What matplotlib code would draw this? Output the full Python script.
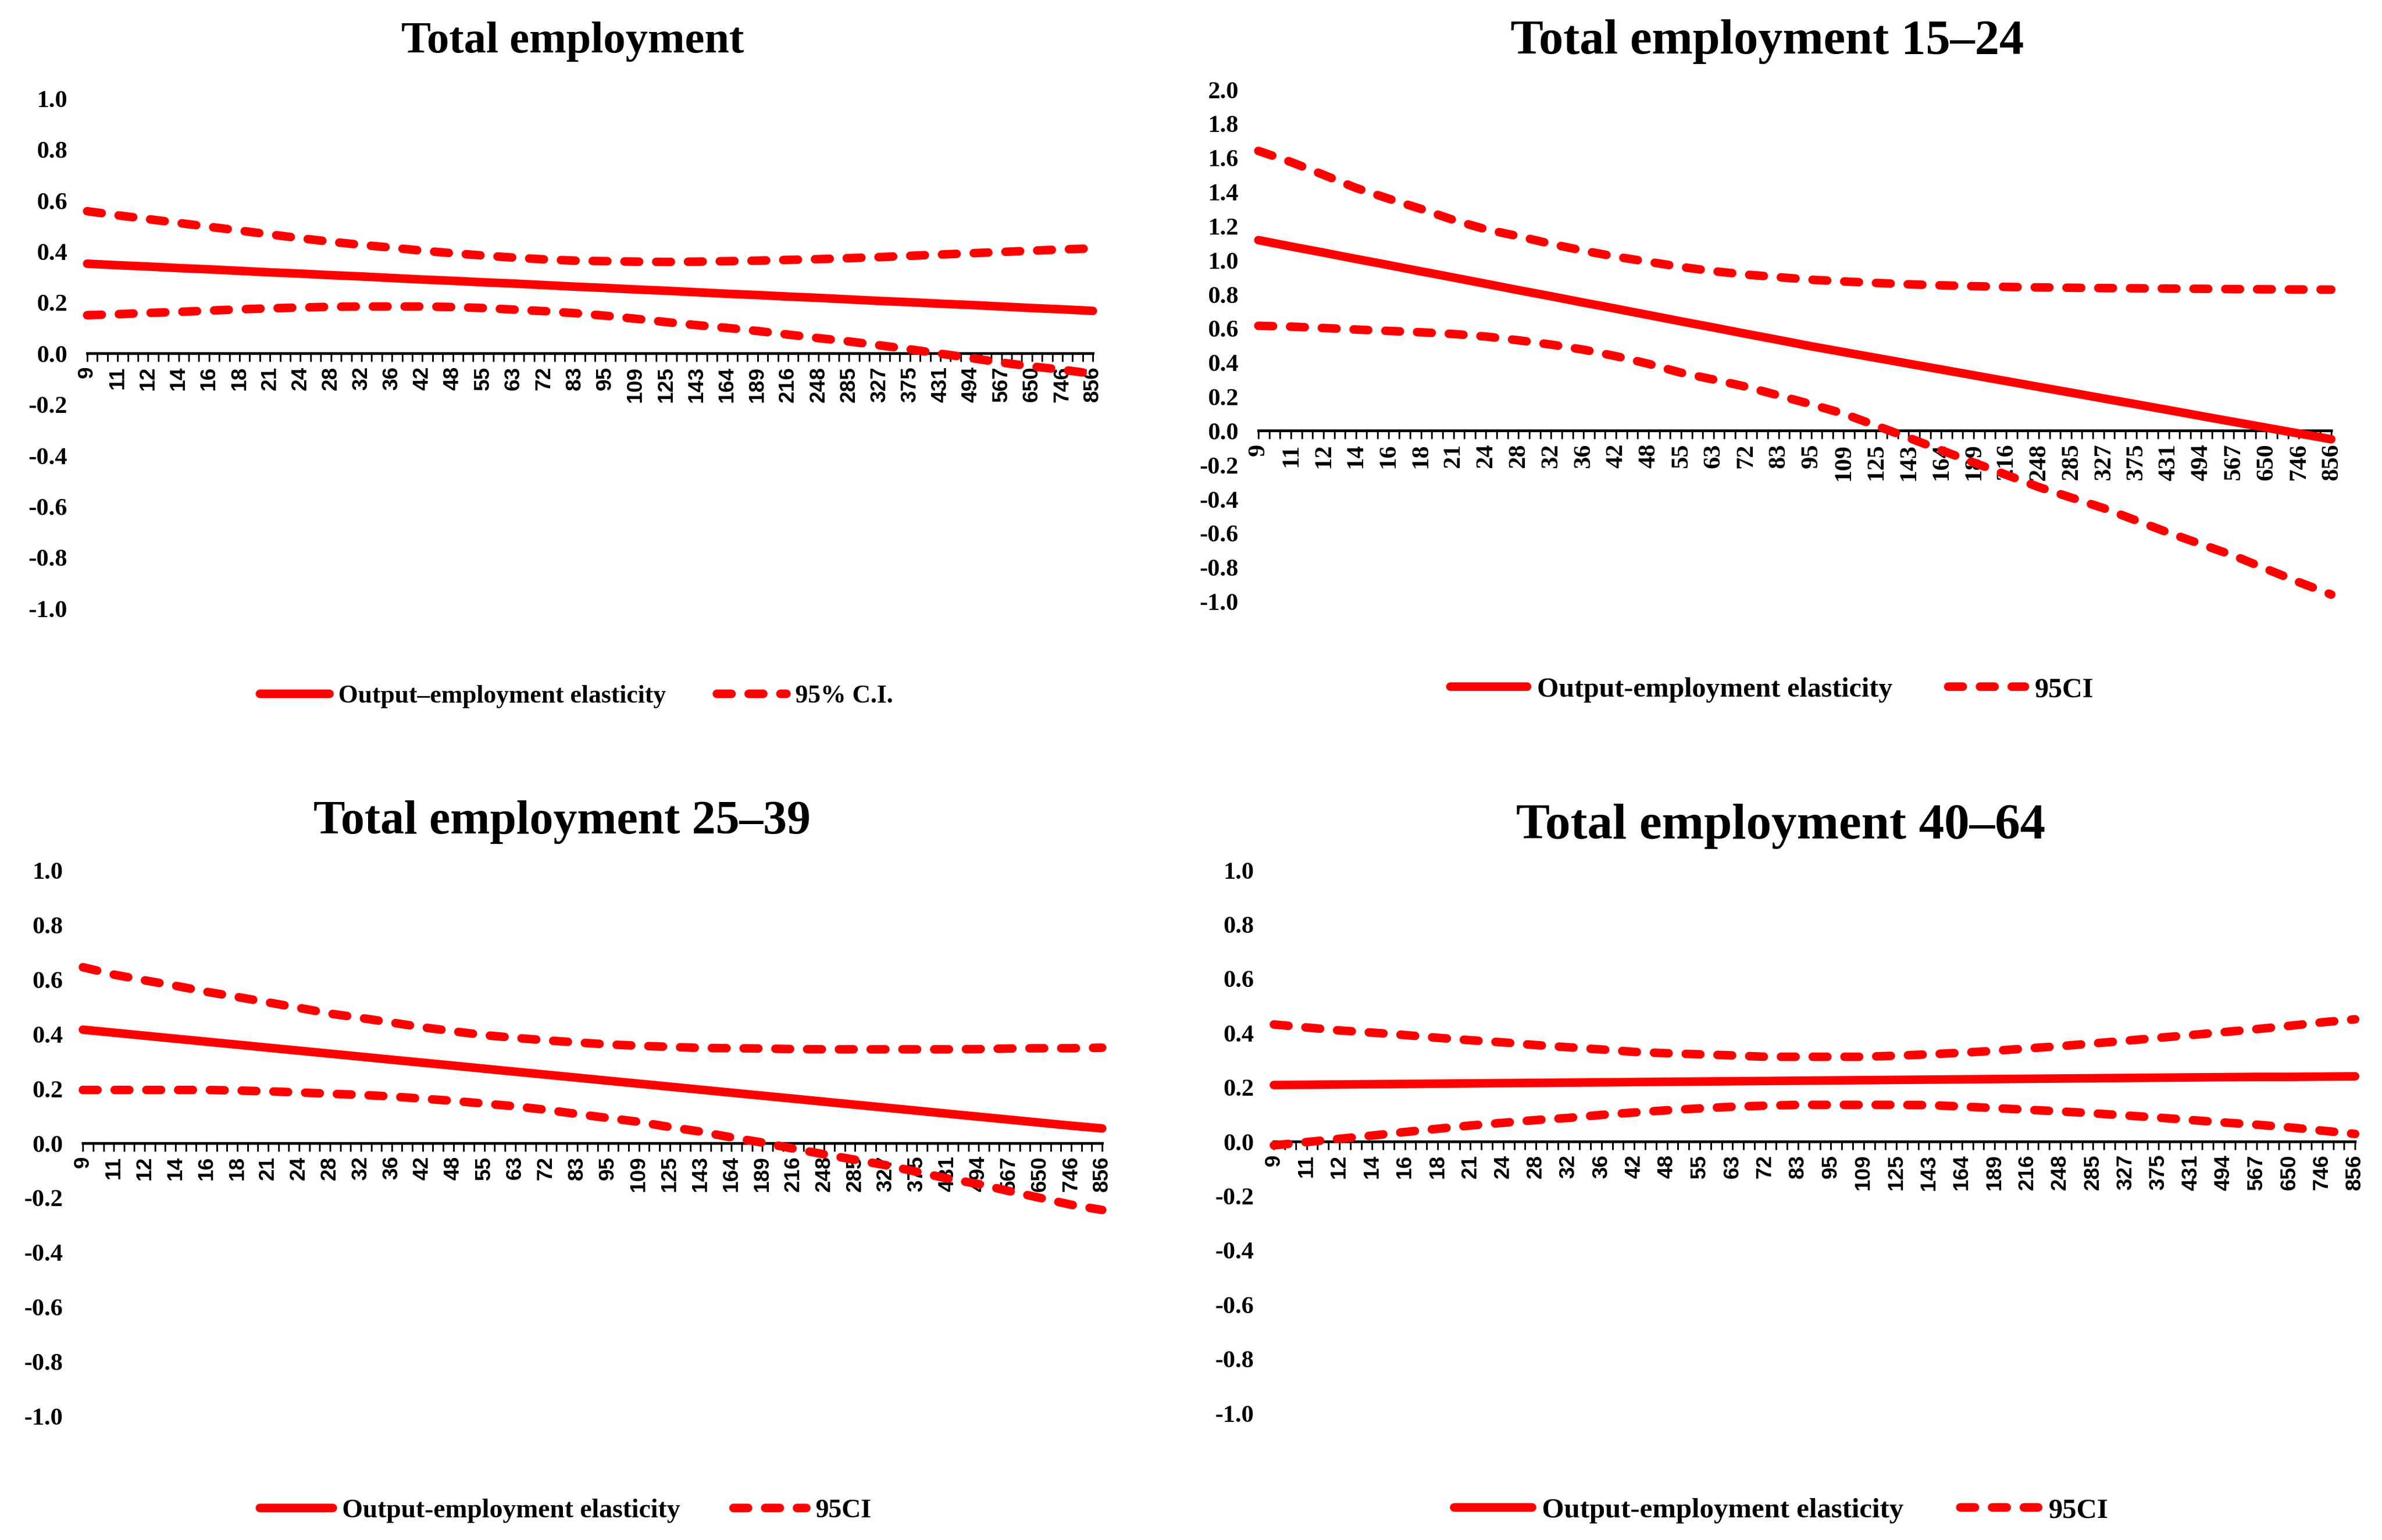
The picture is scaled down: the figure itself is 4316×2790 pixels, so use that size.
import matplotlib
matplotlib.use("Agg")
import matplotlib.pyplot as plt
import numpy as np

# category axis labels (every third category is labelled)
x_labels = [9, 11, 12, 14, 16, 18, 21, 24, 28, 32, 36, 42, 48, 55, 63, 72, 83,
            95, 109, 125, 143, 164, 189, 216, 248, 285, 327, 375, 431, 494,
            567, 650, 746, 856]

# Total employment
total_est = [0.352, 0.346, 0.341, 0.335, 0.330, 0.324, 0.318, 0.313, 0.307,
             0.302, 0.296, 0.290, 0.285, 0.279, 0.274, 0.268, 0.262, 0.257,
             0.251, 0.246, 0.240, 0.234, 0.229, 0.223, 0.218, 0.212, 0.206,
             0.201, 0.195, 0.190, 0.184, 0.178, 0.173, 0.167]
total_hi = [0.558, 0.542, 0.527, 0.512, 0.497, 0.482, 0.467, 0.452, 0.438,
            0.426, 0.415, 0.403, 0.393, 0.384, 0.376, 0.369, 0.364, 0.362,
            0.360, 0.359, 0.360, 0.362, 0.364, 0.367, 0.370, 0.374, 0.378,
            0.383, 0.388, 0.393, 0.398, 0.403, 0.408, 0.412]
total_lo = [0.150, 0.154, 0.159, 0.163, 0.168, 0.173, 0.177, 0.180, 0.183,
            0.184, 0.184, 0.184, 0.182, 0.178, 0.172, 0.166, 0.158, 0.148,
            0.136, 0.123, 0.111, 0.100, 0.088, 0.074, 0.060, 0.047, 0.032,
            0.016, -0.001, -0.018, -0.036, -0.051, -0.064, -0.080]

# 15-24
young_est = [1.117, 1.080, 1.044, 1.007, 0.971, 0.934, 0.898, 0.861, 0.824,
             0.788, 0.751, 0.715, 0.678, 0.641, 0.605, 0.568, 0.532, 0.495,
             0.461, 0.427, 0.393, 0.359, 0.325, 0.291, 0.257, 0.223, 0.189,
             0.155, 0.121, 0.086, 0.052, 0.018, -0.016, -0.050]
young_hi = [1.640, 1.575, 1.500, 1.423, 1.360, 1.300, 1.235, 1.180, 1.140,
            1.095, 1.055, 1.020, 0.990, 0.960, 0.935, 0.915, 0.900, 0.885,
            0.875, 0.866, 0.858, 0.852, 0.847, 0.843, 0.840, 0.838, 0.836,
            0.835, 0.833, 0.832, 0.830, 0.829, 0.828, 0.827]
young_lo = [0.615, 0.610, 0.602, 0.593, 0.585, 0.577, 0.567, 0.552, 0.530,
            0.505, 0.475, 0.437, 0.392, 0.340, 0.300, 0.258, 0.207, 0.155,
            0.100, 0.030, -0.041, -0.114, -0.186, -0.258, -0.330, -0.392,
            -0.454, -0.526, -0.598, -0.665, -0.732, -0.810, -0.887, -0.960]

# 25-39
mid_est = [0.416, 0.405, 0.394, 0.383, 0.372, 0.361, 0.350, 0.339, 0.328,
           0.317, 0.306, 0.295, 0.284, 0.273, 0.262, 0.251, 0.240, 0.229,
           0.218, 0.207, 0.196, 0.185, 0.174, 0.163, 0.152, 0.141, 0.130,
           0.119, 0.108, 0.097, 0.086, 0.075, 0.064, 0.054]
mid_hi = [0.645, 0.618, 0.597, 0.577, 0.555, 0.536, 0.516, 0.496, 0.475,
          0.459, 0.442, 0.425, 0.410, 0.396, 0.386, 0.377, 0.369, 0.362,
          0.357, 0.353, 0.349, 0.348, 0.347, 0.345, 0.344, 0.344, 0.344,
          0.344, 0.344, 0.345, 0.347, 0.348, 0.348, 0.350]
mid_lo = [0.195, 0.195, 0.195, 0.195, 0.195, 0.193, 0.190, 0.186, 0.181,
          0.177, 0.171, 0.163, 0.155, 0.145, 0.135, 0.122, 0.107, 0.092,
          0.078, 0.059, 0.042, 0.021, 0.002, -0.020, -0.041, -0.061, -0.081,
          -0.105, -0.130, -0.150, -0.176, -0.201, -0.226, -0.245]

# 40-64
old_est = [0.208, 0.209, 0.210, 0.211, 0.212, 0.213, 0.214, 0.215, 0.216,
           0.217, 0.218, 0.219, 0.220, 0.221, 0.222, 0.223, 0.224, 0.225,
           0.226, 0.227, 0.228, 0.229, 0.230, 0.231, 0.232, 0.233, 0.234,
           0.235, 0.236, 0.237, 0.238, 0.238, 0.239, 0.240]
old_hi = [0.431, 0.420, 0.409, 0.401, 0.392, 0.382, 0.373, 0.365, 0.355,
          0.347, 0.339, 0.330, 0.325, 0.321, 0.317, 0.312, 0.312, 0.312,
          0.312, 0.316, 0.321, 0.327, 0.334, 0.343, 0.351, 0.361, 0.371,
          0.382, 0.392, 0.403, 0.414, 0.426, 0.439, 0.450]
old_lo = [-0.014, -0.002, 0.010, 0.022, 0.035, 0.047, 0.059, 0.069, 0.079,
          0.087, 0.098, 0.107, 0.115, 0.122, 0.128, 0.132, 0.135, 0.135,
          0.135, 0.135, 0.134, 0.129, 0.123, 0.117, 0.111, 0.104, 0.096,
          0.088, 0.079, 0.070, 0.062, 0.052, 0.040, 0.028]

RED = "#FF0000"
SERIF = "Liberation Serif"
SANS = "Liberation Sans"
LW = 5.6

panels = [
    dict(title="Total employment", est=total_est, hi=total_hi, lo=total_lo,
         ylim=(-1.0, 1.0), rect=[0.0366, 0.605, 0.4222, 0.331],
         title_xy=(0.2405, 0.973), title_size=29, xfont=SANS, xsize=14,
         leg=("Output\u2013employment elasticity", "95% C.I."),
         leg_xy=(0.242, 0.5477), leg_size=16.5),
    dict(title="Total employment 15\u201324", est=young_est, hi=young_hi, lo=young_lo,
         ylim=(-1.0, 2.0), rect=[0.5283, 0.6095, 0.4504, 0.3324],
         title_xy=(0.742, 0.973), title_size=32, xfont=SERIF, xsize=16,
         leg=("Output-employment elasticity", "95CI"),
         leg_xy=(0.744, 0.552), leg_size=18.2),
    dict(title="Total employment 25\u201339", est=mid_est, hi=mid_hi, lo=mid_lo,
         ylim=(-1.0, 1.0), rect=[0.0348, 0.0806, 0.4279, 0.3542],
         title_xy=(0.2360, 0.4663), title_size=31, xfont=SANS, xsize=14,
         leg=("Output-employment elasticity", "95CI"),
         leg_xy=(0.2375, 0.019), leg_size=17.3),
    dict(title="Total employment 40\u201364", est=old_est, hi=old_hi, lo=old_lo,
         ylim=(-1.0, 1.0), rect=[0.5348, 0.0824, 0.4539, 0.3527],
         title_xy=(0.7475, 0.4634), title_size=33, xfont=SANS, xsize=14,
         leg=("Output-employment elasticity", "95CI"),
         leg_xy=(0.7478, 0.019), leg_size=18.5),
]

n_cat = 3 * (len(x_labels) - 1) + 1
xpos = np.arange(len(x_labels)) * 3

fig = plt.figure(figsize=(21.58, 13.95), dpi=200)

for p in panels:
    ax = fig.add_axes(p["rect"])
    l1, = ax.plot(xpos, p["est"], color=RED, lw=LW, solid_capstyle="round",
                  clip_on=False, zorder=3)
    l2, = ax.plot(xpos, p["hi"], color=RED, lw=LW, dashes=(1.7, 2.0),
                  dash_capstyle="round", clip_on=False, zorder=3)
    ax.plot(xpos, p["lo"], color=RED, lw=LW, dashes=(1.7, 2.0),
            dash_capstyle="round", clip_on=False, zorder=3)

    ax.set_xlim(0, n_cat - 1)
    ax.set_ylim(*p["ylim"])

    for s in ["left", "right", "top"]:
        ax.spines[s].set_visible(False)
    ax.spines["bottom"].set_position(("data", 0))
    ax.spines["bottom"].set_linewidth(1.8)
    ax.spines["bottom"].set_zorder(2)

    ax.set_xticks(xpos)
    ax.set_xticklabels([str(v) for v in x_labels], rotation=90,
                       fontfamily=p["xfont"], fontweight="bold",
                       fontsize=p["xsize"])
    ax.set_xticks(np.arange(n_cat), minor=True)
    ax.tick_params(axis="x", which="both", direction="out", length=5.4,
                   width=1.1, pad=3)

    yt = np.round(np.arange(p["ylim"][0], p["ylim"][1] + 0.01, 0.2), 1) + 0.0
    ax.set_yticks(yt)
    ax.set_yticklabels([f"{v:.1f}" if abs(v) > 1e-9 else "0.0" for v in yt],
                       fontfamily=SERIF, fontweight="bold", fontsize=16)
    ax.tick_params(axis="y", length=0, pad=13)

    fig.text(p["title_xy"][0], p["title_xy"][1], p["title"], ha="center",
             va="center", fontfamily=SERIF, fontweight="bold",
             fontsize=p["title_size"])

    ax.legend([l1, l2], list(p["leg"]), ncol=2, frameon=False,
              loc="center", bbox_to_anchor=p["leg_xy"],
              bbox_transform=fig.transFigure, handlelength=2.75,
              handletextpad=0.35, columnspacing=2.0,
              prop=dict(family=SERIF, weight="bold", size=p["leg_size"]))

fig.savefig("out.png", dpi=200, facecolor="white")
